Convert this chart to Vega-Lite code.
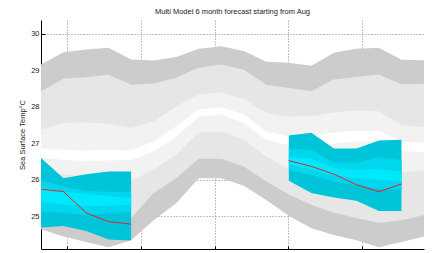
{
  "$schema": "https://vega.github.io/schema/vega-lite/v6.json",
  "autosize": "none",
  "width": 383,
  "height": 229,
  "padding": {"left": 41, "top": 20, "right": 13, "bottom": 4},
  "background": "white",
  "title": {"text": "Multi Model 6 month forecast starting from Aug", "fontSize": 7.5, "fontWeight": "normal", "font": "Liberation Sans", "color": "#222", "offset": 5},
  "datasets": {
    "bands": [
      {"i": 0, "b0": 29.16, "b1": 28.43, "b2": 27.38, "b3": 26.87, "b4": 26.62, "b5": 26.2, "b6": 25.2, "b7": 24.65},
      {"i": 1, "b0": 29.5, "b1": 28.77, "b2": 27.56, "b3": 26.83, "b4": 26.55, "b5": 26.15, "b6": 25.0, "b7": 24.45},
      {"i": 2, "b0": 29.57, "b1": 28.81, "b2": 27.58, "b3": 26.81, "b4": 26.52, "b5": 26.1, "b6": 24.9, "b7": 24.3},
      {"i": 3, "b0": 29.62, "b1": 28.88, "b2": 27.54, "b3": 26.83, "b4": 26.53, "b5": 26.05, "b6": 24.85, "b7": 24.16},
      {"i": 4, "b0": 29.3, "b1": 28.61, "b2": 27.42, "b3": 26.81, "b4": 26.55, "b5": 25.98, "b6": 24.95, "b7": 24.35},
      {"i": 5, "b0": 29.27, "b1": 28.64, "b2": 27.6, "b3": 27.05, "b4": 26.78, "b5": 26.28, "b6": 25.64, "b7": 24.9},
      {"i": 6, "b0": 29.37, "b1": 28.8, "b2": 28.02, "b3": 27.47, "b4": 27.18, "b5": 26.69, "b6": 26.05, "b7": 25.36},
      {"i": 7, "b0": 29.59, "b1": 29.07, "b2": 28.34, "b3": 27.93, "b4": 27.73, "b5": 27.3, "b6": 26.58, "b7": 26.05},
      {"i": 8, "b0": 29.66, "b1": 29.16, "b2": 28.4, "b3": 27.99, "b4": 27.79, "b5": 27.33, "b6": 26.58, "b7": 26.05},
      {"i": 9, "b0": 29.53, "b1": 29.02, "b2": 28.22, "b3": 27.79, "b4": 27.56, "b5": 27.1, "b6": 26.37, "b7": 25.84},
      {"i": 10, "b0": 29.24, "b1": 28.61, "b2": 27.84, "b3": 27.33, "b4": 27.1, "b5": 26.64, "b6": 25.96, "b7": 25.45},
      {"i": 11, "b0": 29.21, "b1": 28.52, "b2": 27.74, "b3": 27.19, "b4": 26.96, "b5": 26.3, "b6": 25.6, "b7": 25.02},
      {"i": 12, "b0": 29.13, "b1": 28.43, "b2": 27.75, "b3": 27.2, "b4": 26.95, "b5": 26.3, "b6": 25.32, "b7": 24.68},
      {"i": 13, "b0": 29.48, "b1": 28.75, "b2": 27.85, "b3": 27.3, "b4": 27.0, "b5": 26.3, "b6": 25.1, "b7": 24.49},
      {"i": 14, "b0": 29.59, "b1": 28.82, "b2": 27.9, "b3": 27.35, "b4": 27.05, "b5": 26.3, "b6": 24.96, "b7": 24.35},
      {"i": 15, "b0": 29.62, "b1": 28.89, "b2": 27.88, "b3": 27.35, "b4": 27.05, "b5": 26.25, "b6": 24.82, "b7": 24.16},
      {"i": 16, "b0": 29.29, "b1": 28.62, "b2": 27.5, "b3": 27.05, "b4": 26.8, "b5": 26.2, "b6": 24.9, "b7": 24.3},
      {"i": 17, "b0": 29.28, "b1": 28.63, "b2": 27.45, "b3": 27.02, "b4": 26.75, "b5": 26.28, "b6": 25.04, "b7": 24.45}
    ],
    "fc": [
      {"box": "a", "i": 0, "top": 26.6, "c1": 26.0, "c2": 25.82, "c3": 25.41, "c4": 25.13, "bottom": 24.7, "med": 25.75},
      {"box": "a", "i": 1, "top": 26.05, "c1": 25.82, "c2": 25.68, "c3": 25.32, "c4": 25.1, "bottom": 24.74, "med": 25.68},
      {"box": "a", "i": 2, "top": 26.16, "c1": 25.7, "c2": 25.62, "c3": 25.29, "c4": 25.04, "bottom": 24.6, "med": 25.1},
      {"box": "a", "i": 3, "top": 26.23, "c1": 25.68, "c2": 25.56, "c3": 25.29, "c4": 25.09, "bottom": 24.37, "med": 24.86},
      {"box": "a", "i": 4, "top": 26.23, "c1": 25.68, "c2": 25.5, "c3": 25.32, "c4": 25.13, "bottom": 24.34, "med": 24.79},
      {"box": "b", "i": 11, "top": 27.22, "c1": 26.85, "c2": 26.63, "c3": 26.43, "c4": 26.28, "bottom": 25.98, "med": 26.53},
      {"box": "b", "i": 12, "top": 27.29, "c1": 26.83, "c2": 26.58, "c3": 26.28, "c4": 26.14, "bottom": 25.64, "med": 26.37},
      {"box": "b", "i": 13, "top": 26.86, "c1": 26.48, "c2": 26.32, "c3": 26.12, "c4": 25.96, "bottom": 25.52, "med": 26.16},
      {"box": "b", "i": 14, "top": 26.86, "c1": 26.48, "c2": 26.28, "c3": 26.05, "c4": 25.85, "bottom": 25.43, "med": 25.87},
      {"box": "b", "i": 15, "top": 27.08, "c1": 26.62, "c2": 26.3, "c3": 26.0, "c4": 25.75, "bottom": 25.15, "med": 25.68},
      {"box": "b", "i": 16, "top": 27.1, "c1": 26.55, "c2": 26.23, "c3": 25.96, "c4": 25.73, "bottom": 25.15, "med": 25.89}
    ]
  },
  "config": {
    "view": {"stroke": null},
    "axis": {"labelFont": "Liberation Sans", "titleFont": "Liberation Sans", "labelFontSize": 7.5, "titleFontSize": 7.5, "titleFontWeight": "normal", "labelColor": "#222", "titleColor": "#222", "domainColor": "#000", "tickColor": "#000", "gridColor": "#666", "gridDash": [1, 2], "gridWidth": 1, "gridOpacity": 0.8}
  },
  "encoding": {
    "x": {"field": "i", "type": "quantitative", "scale": {"domain": [0, 17], "nice": false, "zero": false},
      "axis": {"title": null, "values": [1.17, 4.44, 7.71, 10.98, 14.25], "grid": true, "tickSize": -3, "labelPadding": 5,
        "labelExpr": "datum.value < 2 ? 'Nov 08' : datum.value < 5 ? 'Feb 09' : datum.value < 8 ? 'May 09' : datum.value < 11 ? 'Aug 09' : 'Nov 09'"}}
  },
  "layer": [
    {"data": {"name": "bands"}, "mark": {"type": "area", "color": "#cccccc", "opacity": 1},
      "encoding": {"y": {"field": "b0", "type": "quantitative", "scale": {"domain": [24.11, 30.38], "nice": false, "zero": false},
        "axis": {"title": "Sea Surface Temp°C", "values": [25, 26, 27, 28, 29, 30], "grid": true, "tickSize": -4, "labelPadding": 6, "titlePadding": 4}},
        "y2": {"field": "b7"}}},
    {"data": {"name": "bands"}, "mark": {"type": "area", "color": "#e6e6e6", "opacity": 1},
      "encoding": {"y": {"field": "b1", "type": "quantitative"}, "y2": {"field": "b6"}}},
    {"data": {"name": "bands"}, "mark": {"type": "area", "color": "#f2f2f2", "opacity": 1},
      "encoding": {"y": {"field": "b2", "type": "quantitative"}, "y2": {"field": "b5"}}},
    {"data": {"name": "bands"}, "mark": {"type": "area", "color": "#ffffff", "opacity": 1},
      "encoding": {"y": {"field": "b3", "type": "quantitative"}, "y2": {"field": "b4"}}},
    {"data": {"name": "fc"}, "mark": {"type": "area", "color": "#00c4d8", "opacity": 1},
      "encoding": {"y": {"field": "top", "type": "quantitative"}, "y2": {"field": "bottom"}, "detail": {"field": "box"}}},
    {"data": {"name": "fc"}, "mark": {"type": "area", "color": "#00d6ec", "opacity": 1},
      "encoding": {"y": {"field": "c1", "type": "quantitative"}, "y2": {"field": "c4"}, "detail": {"field": "box"}}},
    {"data": {"name": "fc"}, "mark": {"type": "area", "color": "#00e8fc", "opacity": 1},
      "encoding": {"y": {"field": "c2", "type": "quantitative"}, "y2": {"field": "c3"}, "detail": {"field": "box"}}},
    {"data": {"name": "fc"}, "mark": {"type": "line", "color": "#e8202a", "strokeWidth": 1},
      "encoding": {"y": {"field": "med", "type": "quantitative"}, "detail": {"field": "box"}}}
  ]
}
